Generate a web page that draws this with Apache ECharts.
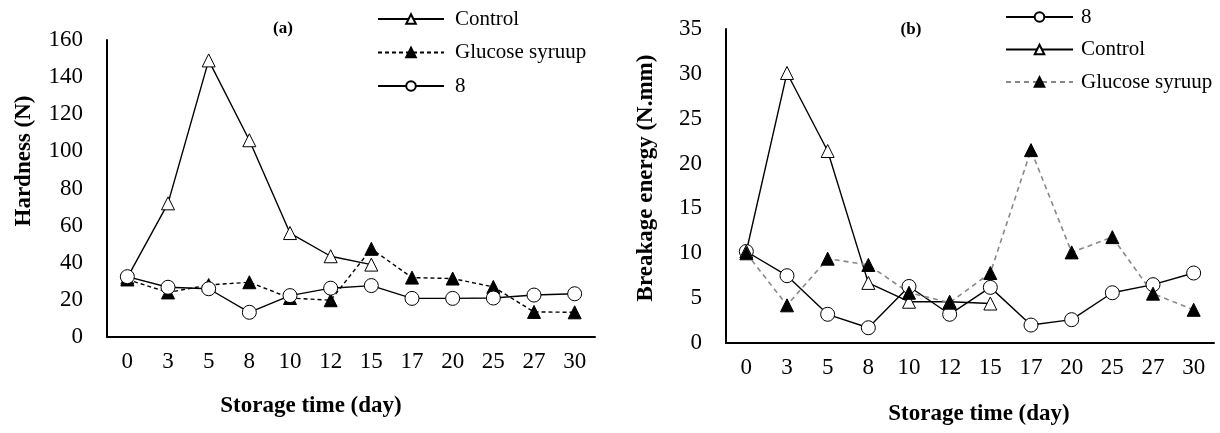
<!DOCTYPE html>
<html>
<head>
<meta charset="utf-8">
<script src="https://cdn.jsdelivr.net/npm/echarts@6/dist/echarts.min.js"></script>
<style>html,body{margin:0;padding:0;background:#fff;}#c{width:1220px;height:433px;}</style>
</head>
<body>
<div id="c"></div>
<script>
// Categories (storage time, day)
var days = ['0','3','5','8','10','12','15','17','20','25','27','30'];

// (a) Hardness (N)
var hardControl = [32, 72, 149, 106, 56, 43.5, 39, null, null, null, null, null];
var hardGlucose = [31, 24, 28, 29.5, 21, 19.8, 47.5, 32, 31.5, 27, 13.5, 13.3];
var hard8       = [32.5, 26.8, 26, 13.3, 22.3, 26.3, 27.7, 20.8, 20.8, 21, 22.6, 23.3];

// (b) Breakage energy (N.mm)
var brk8       = [10.2, 7.5, 3.2, 1.7, 6.3, 3.2, 6.2, 2.0, 2.6, 5.6, 6.5, 7.8];
var brkControl = [10.2, 30.1, 21.4, 6.7, 4.6, 4.6, 4.4, null, null, null, null, null];
var brkGlucose = [10.0, 4.2, 9.4, 8.7, 5.6, 4.5, 7.8, 21.5, 10.1, 11.8, 5.5, 3.7];

// tick settings
var hardMax = 160, hardStep = 20;
var brkMax = 35, brkStep = 5;

var FONT = 'Liberation Serif';

var chart = echarts.init(document.getElementById('c'), null, {renderer: 'canvas'});

function xAxisCfg(gi) {
  return {
    type: 'category', gridIndex: gi, data: days, boundaryGap: true,
    axisLine: {show: true, lineStyle: {color: '#000', width: 2}},
    axisTick: {show: false},
    axisLabel: {fontFamily: FONT, fontSize: 23, color: '#000', margin: 13, interval: 0},
    splitLine: {show: false}
  };
}
function yAxisCfg(gi, max, step) {
  return {
    type: 'value', gridIndex: gi, min: 0, max: max, interval: step,
    axisLine: {show: true, lineStyle: {color: '#000', width: 2}},
    axisTick: {show: false},
    axisLabel: {fontFamily: FONT, fontSize: 23, color: '#000', margin: 24},
    splitLine: {show: false}
  };
}

var openTri = {color: '#fff', borderColor: '#000', borderWidth: 1};
var filled = {color: '#000', borderColor: '#000', borderWidth: 1};
var openCirc = {color: '#fff', borderColor: '#000', borderWidth: 1};

function label(name) { return name.split('|')[1]; }

var option = {
  backgroundColor: '#fff',
  animation: false,
  title: [
    {text: '(a)', left: 278, top: 24, textAlign: 'center', textVerticalAlign: 'middle',
     textStyle: {fontFamily: FONT, fontWeight: 'bold', fontSize: 17, color: '#000'}},
    {text: '(b)', left: 906, top: 25, textAlign: 'center', textVerticalAlign: 'middle',
     textStyle: {fontFamily: FONT, fontWeight: 'bold', fontSize: 17, color: '#000'}}
  ],
  legend: [
    {
      data: ['a|Control', 'a|Glucose syruup', 'a|8'],
      orient: 'vertical', left: 377, top: 8, padding: 0,
      itemWidth: 66, itemHeight: 12, itemGap: 11.5,
      formatter: label,
      selectedMode: false,
      textStyle: {fontFamily: FONT, fontSize: 21, color: '#000', lineHeight: 22, padding: [0, 0, 0, 6]}
    },
    {
      data: ['b|8', 'b|Control', 'b|Glucose syruup'],
      orient: 'vertical', left: 1005, top: 6, padding: 0,
      itemWidth: 67, itemHeight: 12, itemGap: 10.5,
      formatter: label,
      selectedMode: false,
      textStyle: {fontFamily: FONT, fontSize: 21, color: '#000', lineHeight: 22, padding: [0, 0, 0, 3]}
    }
  ],
  grid: [
    {left: 107, top: 40, width: 488, height: 297, containLabel: false},
    {left: 726, top: 29, width: 488, height: 314, containLabel: false}
  ],
  xAxis: [xAxisCfg(0), xAxisCfg(1)],
  yAxis: [yAxisCfg(0, hardMax, hardStep), yAxisCfg(1, brkMax, brkStep)],
  graphic: [
    {type: 'text', x: 24, y: 161, rotation: Math.PI / 2,
     style: {text: 'Hardness (N)', fontFamily: FONT, fontWeight: 'bold', fontSize: 23, fill: '#000', align: 'center', verticalAlign: 'middle'}},
    {type: 'text', x: 311, y: 406,
     style: {text: 'Storage time (day)', fontFamily: FONT, fontWeight: 'bold', fontSize: 23, fill: '#000', align: 'center', verticalAlign: 'middle'}},
    {type: 'text', x: 646, y: 178, rotation: Math.PI / 2,
     style: {text: 'Breakage energy (N.mm)', fontFamily: FONT, fontWeight: 'bold', fontSize: 23, fill: '#000', align: 'center', verticalAlign: 'middle'}},
    {type: 'text', x: 979, y: 414,
     style: {text: 'Storage time (day)', fontFamily: FONT, fontWeight: 'bold', fontSize: 23, fill: '#000', align: 'center', verticalAlign: 'middle'}}
  ],
  series: [
    {name: 'a|Control', type: 'line', xAxisIndex: 0, yAxisIndex: 0, data: hardControl,
     symbol: 'triangle', symbolSize: 13, showAllSymbol: true, connectNulls: false,
     lineStyle: {color: '#000', width: 1.4}, itemStyle: openTri},
    {name: 'a|Glucose syruup', type: 'line', xAxisIndex: 0, yAxisIndex: 0, data: hardGlucose,
     symbol: 'triangle', symbolSize: 13, showAllSymbol: true,
     lineStyle: {color: '#000', width: 1.4, type: [4, 3]}, itemStyle: filled},
    {name: 'a|8', type: 'line', xAxisIndex: 0, yAxisIndex: 0, data: hard8,
     symbol: 'circle', symbolSize: 14, showAllSymbol: true,
     lineStyle: {color: '#000', width: 1.4}, itemStyle: openCirc},

    {name: 'b|8', type: 'line', xAxisIndex: 1, yAxisIndex: 1, data: brk8,
     symbol: 'circle', symbolSize: 14, showAllSymbol: true,
     lineStyle: {color: '#000', width: 1.4}, itemStyle: openCirc},
    {name: 'b|Control', type: 'line', xAxisIndex: 1, yAxisIndex: 1, data: brkControl,
     symbol: 'triangle', symbolSize: 13, showAllSymbol: true,
     lineStyle: {color: '#000', width: 1.4}, itemStyle: openTri},
    {name: 'b|Glucose syruup', type: 'line', xAxisIndex: 1, yAxisIndex: 1, data: brkGlucose,
     symbol: 'triangle', symbolSize: 13, showAllSymbol: true,
     lineStyle: {color: '#888', width: 1.6, type: [5, 4]}, itemStyle: filled}
  ]
};
chart.setOption(option);
</script>
</body>
</html>
